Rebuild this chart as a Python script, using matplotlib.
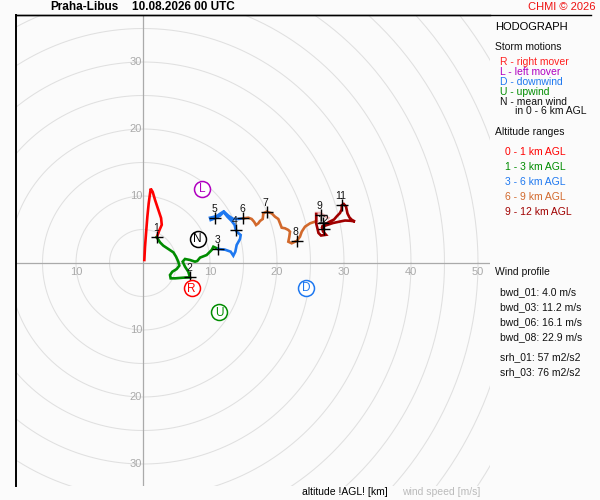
import matplotlib
matplotlib.use("Agg")
import matplotlib.pyplot as plt
from matplotlib.lines import Line2D
import numpy as np

# hodograph segments (u, v in m/s)
U_01 = [0.2, 0.3, 0.45, 0.65, 0.85, 1.15, 1.45, 1.8, 2.3, 2.7, 2.8, 2.45, 2.05]
V_01 = [0.45, 2.4, 4.4, 6.9, 8.9, 11.1, 10.6, 9.4, 7.9, 6.7, 5.7, 4.9, 3.85]

U_13 = [2.05, 2.54, 3.03, 3.78, 4.53, 4.93, 5.27, 5.42, 5.03, 4.38, 4.03, 4.13, 4.78,
        6.02, 7.01, 6.76, 6.27, 5.92, 6.27, 7.01, 7.76, 8.1, 8.51, 9.5, 10.25, 10.5, 11.24]
V_13 = [3.85, 3.08, 2.59, 2.09, 1.59, 0.95, 0.2, -0.4, -0.9, -1.3, -1.79, -2.29, -2.29,
        -2.19, -2.14, -1.3, -0.55, 0.2, 0.6, 0.45, 0.2, 0.3, 0.8, 1.19, 1.94, 2.43, 2.09]

U_36 = [11.24, 12.24, 13.09, 13.48, 13.78, 13.98, 14.48, 14.58, 13.98, 13.83, 13.68, 13.23,
        12.59, 11.99, 11.59, 11.09, 10.5, 10.0, 10.1, 10.75, 11.49, 12.09, 12.74, 13.48, 14.23, 14.98]
V_36 = [2.09, 1.99, 1.69, 1.09, 1.69, 2.69, 3.58, 4.18, 4.67, 4.97, 5.67, 6.27,
        6.91, 7.66, 7.41, 7.06, 6.87, 6.76, 6.42, 6.67, 7.06, 7.66, 7.06, 6.57, 6.57, 6.67]

U_69 = [14.98, 15.72, 16.22, 16.57, 16.87, 17.21, 17.46, 17.87, 17.96, 18.46, 19.21, 19.7,
        20.19, 20.45, 20.7, 21.19, 21.69, 21.94, 21.84, 21.69, 22.19, 22.69, 22.94,
        23.43, 23.69, 24.18, 24.93, 25.67, 25.92]
V_69 = [6.67, 6.76, 6.57, 6.17, 5.67, 5.92, 6.27, 6.57, 7.41, 7.66, 7.41, 6.91,
        6.57, 5.92, 5.27, 5.18, 4.93, 4.67, 3.93, 3.18, 2.94, 3.18, 3.28,
        3.93, 4.67, 5.42, 5.92, 6.17, 6.32]

U_9 = [25.92, 25.85, 26.42, 27.66]
V_9 = [6.32, 7.45, 7.46, 6.72]

U_912 = [25.85, 25.85, 26.0, 26.19, 26.57, 27.31, 26.87, 26.72, 27.01, 27.76, 28.51, 28.96,
         29.4, 29.66, 29.66, 29.96, 30.3, 30.52, 30.82, 31.19, 31.64, 30.97, 30.15, 29.4,
         28.36, 27.46, 26.79]
V_912 = [7.31, 5.9, 5.3, 4.48, 4.1, 4.21, 4.7, 5.3, 5.67, 6.12, 6.49, 7.01,
         7.46, 7.99, 8.61, 8.81, 8.43, 7.39, 6.79, 6.42, 6.19, 6.3, 6.34, 6.19,
         5.97, 5.67, 5.45]

# height markers every km
KM_LABELS = ["1", "2", "3", "4", "5", "6", "7", "8", "9", "", "11", "12"]
KM_U = [2.05, 7.01, 11.24, 13.83, 10.75, 14.98, 18.46, 22.94, 26.5, 26.8, 29.66, 27.0]
KM_V = [3.85, -2.14, 2.09, 4.93, 6.76, 6.67, 7.66, 3.28, 7.2, 5.9, 8.61, 5.1]

# storm motions
STORM_LABELS = ["R", "L", "D", "U", "N"]
STORM_U = [7.27, 8.85, 24.33, 11.39, 8.16]
STORM_V = [-3.78, 11.04, -3.69, -7.36, 3.58]
STORM_COLORS = ["#ff0000", "#b000c0", "#1e78f0", "#008c00", "#000000"]

X_TICKS = [-10, 10, 20, 30, 40, 50]
Y_TICKS = [-30, -20, -10, 10, 20, 30]

STORM_TEXT = ["R - right mover", "L - left mover", "D - downwind", "U - upwind", "N - mean wind"]
RANGE_TEXT = ["0 - 1 km AGL", "1 - 3 km AGL", "3 - 6 km AGL", "6 - 9 km AGL", "9 - 12 km AGL"]
PROFILE_TEXT = ["bwd_01: 4.0 m/s", "bwd_03: 11.2 m/s", "bwd_06: 16.1 m/s", "bwd_08: 22.9 m/s"]
SRH_TEXT = ["srh_01: 57 m2/s2", "srh_03: 76 m2/s2"]

C_01, C_13, C_36, C_69, C_912 = "#ff0000", "#008c00", "#1e78f0", "#d2692c", "#a00000"
RANGE_COLORS = [C_01, C_13, C_36, C_69, C_912]

W, H = 600, 500
BG = "#fbfbfb"

plt.rcParams["font.family"] = ["Liberation Sans", "DejaVu Sans"]


def px(x, y):
    return x / W, 1 - y / H


def main() -> None:
    fig = plt.figure(figsize=(6, 5), dpi=100, facecolor=BG)
    left, top, right, bottom = 16, 15, 490, 486
    ax = fig.add_axes([left / W, 1 - bottom / H, (right - left) / W, (bottom - top) / H])
    ax.set_facecolor(BG)

    scale = 6.7  # px per m/s
    ox, oy = 143, 263
    ax.set_xlim((left - ox) / scale, (right - ox) / scale)
    ax.set_ylim((oy - bottom) / scale, (oy - top) / scale)
    ax.set_aspect("equal", adjustable="box")
    ax.set_xticks([])
    ax.set_yticks([])
    for s in ["right", "bottom"]:
        ax.spines[s].set_visible(False)
    ax.spines["left"].set_linewidth(1.4)
    ax.spines["top"].set_linewidth(1.0)

    # range rings
    t = np.linspace(0, 2 * np.pi, 400)
    for r in np.arange(5, 70, 5):
        ax.plot(r * np.cos(t), r * np.sin(t), color="#e0e0e0", lw=0.75, zorder=1)
    ax.axhline(0, color="#aaaaaa", lw=0.9, zorder=2)
    ax.axvline(0, color="#aaaaaa", lw=0.9, zorder=2)

    for v in X_TICKS:
        ax.text(v, -1.3, f"{abs(v)}", color="#aaaaaa", fontsize=8, ha="center", va="center", zorder=3)
    for v in Y_TICKS:
        ax.text(-0.15, v, f"{abs(v)}", color="#aaaaaa", fontsize=8, ha="right", va="center", zorder=3)

    # hodograph
    for uu, vv, c in [(U_01, V_01, C_01), (U_13, V_13, C_13), (U_36, V_36, C_36),
                      (U_69, V_69, C_69), (U_9, V_9, "#f0b4b4"), (U_912, V_912, C_912)]:
        ax.plot(uu, vv, color=c, lw=1.9, solid_joinstyle="miter", zorder=4)

    ax.plot(KM_U, KM_V, ls="none", marker="+", ms=8, mew=1.0, color="black", zorder=5)
    for lab, uu, vv in zip(KM_LABELS, KM_U, KM_V):
        if lab:
            ax.text(uu - 0.15, vv + 1.35, lab, fontsize=7.5, ha="center", va="center", color="#111111", zorder=6)

    for lab, uu, vv, c in zip(STORM_LABELS, STORM_U, STORM_V, STORM_COLORS):
        ax.plot(uu, vv, marker="o", ms=11.5, mfc="white", mec=c, mew=1.1, zorder=6)
        ax.text(uu, vv - 0.05, lab, color=c, fontsize=8.5, ha="center", va="center", zorder=7)

    # frame top line reaching over the side panel
    fig.add_artist(Line2D([left / W, 591 / W], [1 - top / H, 1 - top / H], color="black", lw=1.0))

    # header
    fig.text(*px(50, 7.5), "Praha-Libus", fontsize=8.5, fontweight="bold", va="center", ha="left")
    fig.text(*px(132, 7.5), "10.08.2026 00 UTC", fontsize=8.5, fontweight="bold", va="center", ha="left")
    fig.text(*px(596, 7), "CHMI \u00a9 2026", fontsize=8, color="#ee1111", va="center", ha="right")

    # side panel
    fig.text(*px(495, 26.5), "HODOGRAPH", fontsize=8, va="center")
    fig.text(*px(495, 46.5), "Storm motions", fontsize=7.5, va="center", color="#111111")
    for i, (s, c) in enumerate(zip(STORM_TEXT, ["#ff2020", "#b000c0", "#1e78f0", "#008c00", "#111111"])):
        fig.text(*px(500.5, 61.7 + 10 * i), s, fontsize=7.5, color=c, va="center")
    fig.text(*px(515, 111.5), "in 0 - 6 km AGL", fontsize=7.5, color="#111111", va="center")
    fig.text(*px(495, 131.7), "Altitude ranges", fontsize=7.5, va="center", color="#111111")
    for i, (s, c) in enumerate(zip(RANGE_TEXT, RANGE_COLORS)):
        fig.text(*px(505, 151.7 + 15 * i), s, fontsize=7.5, color=c, va="center")
    fig.text(*px(495, 272.3), "Wind profile", fontsize=7.5, va="center", color="#111111")
    for i, s in enumerate(PROFILE_TEXT):
        fig.text(*px(500.5, 292.3 + 15 * i), s, fontsize=7.5, va="center", color="#111111")
    for i, s in enumerate(SRH_TEXT):
        fig.text(*px(500.5, 357 + 15 * i), s, fontsize=7.5, va="center", color="#111111")

    # footer
    fig.text(*px(302, 492), "altitude !AGL! [km]", fontsize=7.5, va="center")
    fig.text(*px(402, 492), "wind speed [m/s]", fontsize=7.5, va="center", color="#bbbbbb")

    fig.savefig("out.png", dpi=100, facecolor=BG)
    plt.close(fig)


if __name__ == "__main__":
    main()
